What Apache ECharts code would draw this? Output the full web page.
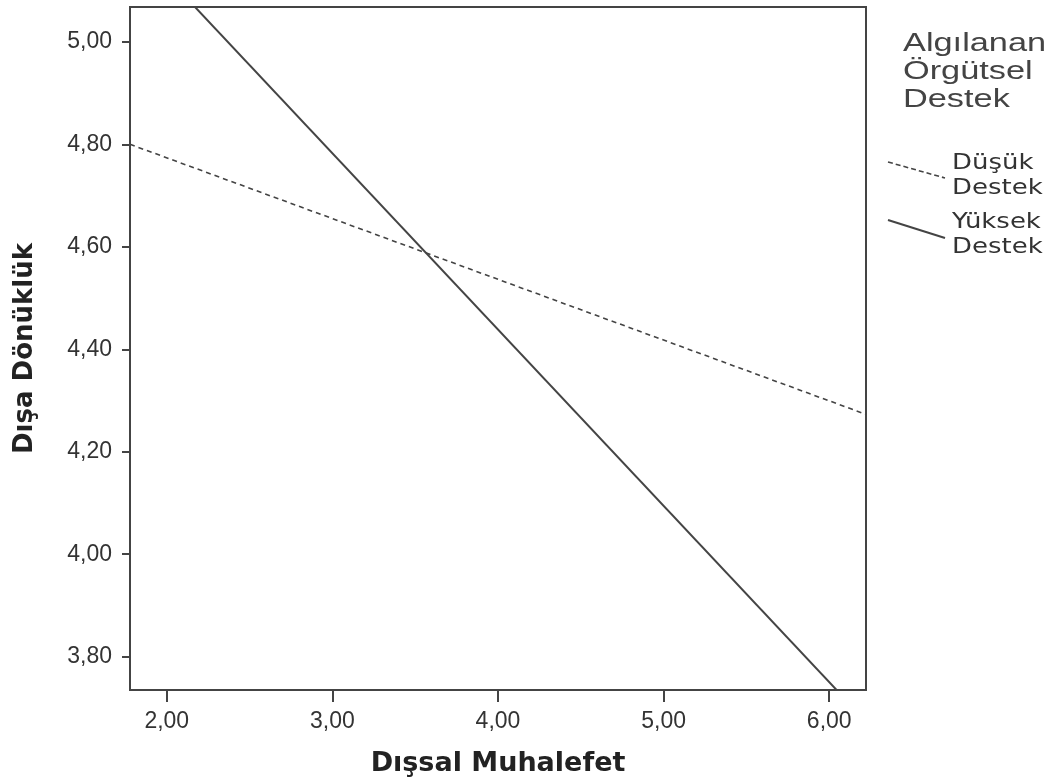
<!DOCTYPE html>
<html>
<head>
<meta charset="utf-8">
<script src="https://cdn.jsdelivr.net/npm/echarts@6/dist/echarts.min.js"></script>
<style>
  html, body { margin: 0; padding: 0; background: #fff; }
  #chart { width: 1058px; height: 783px; }
</style>
</head>
<body>
<div id="chart"></div>
<script>
// x değerleri (Dışsal Muhalefet), eksen sınırları
var xRange = [1.778, 6.222];
var xTicks = [2, 3, 4, 5, 6];
var yRange = [3.735, 5.068];
var yTicks = [3.8, 4.0, 4.2, 4.4, 4.6, 4.8, 5.0];

// düşük / yüksek destek doğruları (uç noktalar)
var dusukDestek = [4.80, 4.273];
var yuksekDestek = [5.203, 3.674];

var lineColor = '#444';
var fmt = function(v) { return v.toFixed(2).replace('.', ','); };

var myChart = echarts.init(document.getElementById('chart'));

var option = {
    backgroundColor: '#fff',
    animation: false,
    grid: {
        left: 130, right: 192, top: 7, bottom: 93,
        show: true,
        borderColor: lineColor,
        borderWidth: 2
    },
    xAxis: {
        type: 'value',
        min: xRange[0],
        max: xRange[1],
        name: 'Dışsal Muhalefet',
        nameLocation: 'middle',
        nameGap: 60,
        nameTextStyle: { fontFamily: 'DejaVu Sans', fontWeight: 'bold', fontSize: 27, color: '#222' },
        axisLine: { show: true, lineStyle: { color: lineColor, width: 2 } },
        axisTick: { show: true, length: 12, customValues: xTicks, lineStyle: { color: lineColor, width: 2 } },
        axisLabel: {
            customValues: xTicks,
            margin: 20,
            fontFamily: 'Liberation Sans',
            fontSize: 23,
            color: '#333',
            formatter: fmt
        },
        splitLine: { show: false }
    },
    yAxis: {
        type: 'value',
        min: yRange[0],
        max: yRange[1],
        name: 'Dışa Dönüklük',
        nameLocation: 'middle',
        nameGap: 92,
        nameTextStyle: { fontFamily: 'DejaVu Sans', fontWeight: 'bold', fontSize: 26, color: '#222' },
        axisLine: { show: true, lineStyle: { color: lineColor, width: 2 } },
        axisTick: { show: true, length: 8, customValues: yTicks, lineStyle: { color: lineColor, width: 2 } },
        axisLabel: {
            customValues: yTicks,
            margin: 18,
            fontFamily: 'Liberation Sans',
            fontSize: 23,
            color: '#333',
            formatter: fmt
        },
        splitLine: { show: false }
    },
    series: [{
        name: 'Düşük Destek',
        type: 'line',
        symbol: 'none',
        clip: true,
        data: [[xRange[0], dusukDestek[0]], [xRange[1], dusukDestek[1]]],
        lineStyle: { color: lineColor, width: 1.6, type: [5, 4] }
    }, {
        name: 'Yüksek Destek',
        type: 'line',
        symbol: 'none',
        clip: true,
        data: [[xRange[0], yuksekDestek[0]], [xRange[1], yuksekDestek[1]]],
        lineStyle: { color: lineColor, width: 2 }
    }],
    // SPSS tarzı lejant
    graphic: [{
        type: 'text',
        x: 903, y: 30,
        scaleX: 1.32,
        style: {
            text: 'Algılanan\nÖrgütsel\nDestek',
            fontFamily: 'Liberation Sans',
            fontSize: 26,
            lineHeight: 28,
            fill: '#444'
        }
    }, {
        type: 'line',
        shape: { x1: 888, y1: 162, x2: 945, y2: 178 },
        style: { stroke: lineColor, lineWidth: 1.6, lineDash: [5, 3] }
    }, {
        type: 'text',
        x: 952, y: 151,
        scaleX: 1.18,
        style: {
            text: 'Düşük\nDestek',
            fontFamily: 'DejaVu Sans',
            fontSize: 22,
            lineHeight: 25,
            fill: '#333'
        }
    }, {
        type: 'line',
        shape: { x1: 888, y1: 220, x2: 945, y2: 238 },
        style: { stroke: lineColor, lineWidth: 2 }
    }, {
        type: 'text',
        x: 952, y: 210,
        scaleX: 1.18,
        style: {
            text: 'Yüksek\nDestek',
            fontFamily: 'DejaVu Sans',
            fontSize: 22,
            lineHeight: 25,
            fill: '#333'
        }
    }]
};

myChart.setOption(option);
</script>
</body>
</html>
